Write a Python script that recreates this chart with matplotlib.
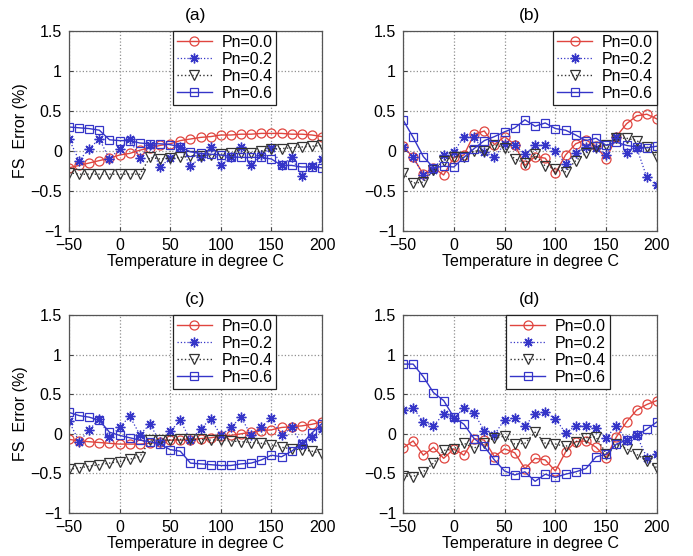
import matplotlib
matplotlib.use("Agg")
import matplotlib.pyplot as plt
import numpy as np

plt.rcParams['font.family'] = ['Liberation Sans', 'DejaVu Sans']

temperature = list(range(-50, 201, 10))
series_labels = ["Pn=0.0", "Pn=0.2", "Pn=0.4", "Pn=0.6"]
panel_titles = ["(a)", "(b)", "(c)", "(d)"]

# FS error (%) per panel, one list per Pn value
a_pn00 = [-0.21, -0.18, -0.15, -0.12, -0.09, -0.05, -0.03, 0.01, 0.04, 0.07, 0.09, 0.13, 0.15,
          0.17, 0.18, 0.20, 0.20, 0.21, 0.21, 0.22, 0.22, 0.22, 0.21, 0.21, 0.20, 0.18]
a_pn02 = [0.15, -0.12, 0.03, 0.15, -0.10, 0.03, 0.15, -0.09, 0.07, -0.20, -0.09, 0.05, -0.19,
          -0.08, 0.05, -0.18, -0.07, 0.05, -0.18, -0.05, 0.04, -0.18, -0.08, -0.31, -0.19, -0.10]
a_pn04 = [-0.27, -0.29, -0.29, -0.29, -0.29, -0.29, -0.29, -0.29, -0.08, -0.10, -0.09, -0.08, -0.06,
          -0.06, -0.05, -0.04, -0.03, -0.03, -0.02, 0.00, 0.02, 0.03, 0.04, 0.05, 0.06, 0.07]
a_pn06 = [0.30, 0.29, 0.28, 0.26, 0.14, 0.13, 0.13, 0.10, 0.09, 0.09, 0.08, 0.05, -0.01,
          -0.03, -0.04, -0.05, -0.07, -0.08, -0.08, -0.08, -0.10, -0.18, -0.18, -0.20, -0.20, -0.21]

b_pn00 = [0.06, -0.08, -0.29, -0.21, -0.30, -0.08, -0.05, 0.21, 0.25, 0.08, 0.18, 0.08, -0.18,
          -0.07, -0.09, -0.28, -0.05, 0.09, 0.14, 0.06, -0.10, 0.18, 0.34, 0.44, 0.46, 0.40]
b_pn02 = [0.05, -0.08, -0.30, -0.24, -0.05, -0.01, 0.18, 0.17, -0.01, -0.08, 0.09, 0.07, -0.04,
          0.07, 0.07, 0.00, -0.16, -0.03, 0.05, 0.04, -0.05, 0.18, -0.02, 0.04, -0.33, -0.43]
b_pn04 = [-0.28, -0.40, -0.39, -0.24, -0.12, -0.07, -0.08, 0.00, 0.00, 0.08, 0.04, -0.10, -0.15,
          -0.04, -0.19, -0.22, -0.26, -0.12, -0.03, 0.05, 0.07, 0.16, 0.16, 0.13, 0.05, -0.07]
b_pn06 = [0.39, 0.17, -0.07, -0.21, -0.19, -0.20, -0.08, 0.03, 0.13, 0.18, 0.24, 0.29, 0.39,
          0.31, 0.35, 0.28, 0.26, 0.20, 0.13, 0.16, 0.07, 0.11, 0.07, 0.05, 0.04, 0.06]

c_pn00 = [-0.07, -0.09, -0.10, -0.11, -0.12, -0.13, -0.13, -0.13, -0.12, -0.10, -0.08, -0.08, -0.08,
          -0.06, -0.05, -0.03, -0.02, 0.00, 0.02, 0.04, 0.05, 0.08, 0.09, 0.10, 0.12, 0.15]
c_pn02 = [0.16, -0.10, 0.05, 0.19, -0.04, 0.08, 0.22, -0.01, 0.12, -0.10, 0.03, 0.17, -0.08,
          0.06, 0.19, -0.02, 0.08, 0.21, -0.02, 0.09, 0.20, -0.02, 0.08, -0.13, -0.04, 0.06]
c_pn04 = [-0.45, -0.43, -0.41, -0.39, -0.37, -0.35, -0.32, -0.29, -0.08, -0.08, -0.08, -0.07, -0.07,
          -0.07, -0.08, -0.08, -0.09, -0.10, -0.11, -0.12, -0.14, -0.17, -0.19, -0.20, -0.22, -0.25]
c_pn06 = [0.27, 0.23, 0.21, 0.17, 0.02, -0.02, -0.05, -0.08, -0.10, -0.13, -0.20, -0.22, -0.37,
          -0.38, -0.39, -0.40, -0.40, -0.38, -0.37, -0.33, -0.27, -0.29, -0.22, -0.13, 0.01, 0.13]

d_pn00 = [-0.18, -0.09, -0.27, -0.17, -0.31, -0.19, -0.27, -0.06, -0.08, -0.29, -0.19, -0.24, -0.44,
          -0.31, -0.33, -0.47, -0.23, -0.10, -0.09, -0.17, -0.30, -0.04, 0.15, 0.30, 0.37, 0.42]
d_pn02 = [0.30, 0.33, 0.15, 0.10, 0.25, 0.20, 0.32, 0.26, 0.04, -0.01, 0.18, 0.20, 0.10,
          0.25, 0.27, 0.19, 0.01, 0.10, 0.10, 0.07, -0.05, 0.10, -0.08, -0.02, -0.30, -0.26]
d_pn04 = [-0.53, -0.54, -0.48, -0.37, -0.21, -0.19, -0.12, -0.18, -0.12, -0.05, -0.03, -0.13, -0.12,
          0.02, -0.12, -0.13, -0.16, -0.10, -0.05, -0.04, -0.25, -0.13, -0.19, -0.26, -0.34, -0.43]
d_pn06 = [0.88, 0.88, 0.72, 0.52, 0.42, 0.21, 0.12, -0.06, -0.16, -0.33, -0.47, -0.52, -0.48,
          -0.60, -0.51, -0.55, -0.51, -0.48, -0.44, -0.29, -0.26, -0.13, -0.08, -0.02, 0.06, 0.15]

panels = [
    [a_pn00, a_pn02, a_pn04, a_pn06],
    [b_pn00, b_pn02, b_pn04, b_pn06],
    [c_pn00, c_pn02, c_pn04, c_pn06],
    [d_pn00, d_pn02, d_pn04, d_pn06],
]

x_ticks = [-50, 0, 50, 100, 150, 200]
y_ticks = [-1, -0.5, 0, 0.5, 1, 1.5]
y_tick_labels = ["\u22121", "\u22120.5", "0", "0.5", "1", "1.5"]

red = "#e0453f"
blue = "#3535c8"
dark = "#333333"
styles = [
    dict(color=red, linestyle='-', linewidth=1.0, marker='o', markersize=6.5,
         markerfacecolor='none', markeredgewidth=0.9),
    dict(color=blue, linestyle=':', linewidth=0.9, marker=(8, 2, 0), markersize=7,
         markeredgewidth=1.0),
    dict(color=dark, linestyle=':', linewidth=1.0, marker='v', markersize=7,
         markerfacecolor='none', markeredgewidth=0.9),
    dict(color=blue, linestyle='-', linewidth=1.0, marker='s', markersize=6,
         markerfacecolor='none', markeredgewidth=0.9),
]

W, H = 693, 556
fig = plt.figure(figsize=(W / 100, H / 100), dpi=100)

# axes boxes in pixels: left, top, right, bottom
boxes = [(69, 31, 322, 231), (403, 31, 657, 231),
         (69, 315, 322, 513), (403, 315, 657, 513)]
legend_right = [0.82, 1.0, 0.82, 0.815]

for i, (box, series) in enumerate(zip(boxes, panels)):
    l, t, r, b = box
    ax = fig.add_axes([l / W, (H - b) / H, (r - l) / W, (b - t) / H])
    for vals, lab, st in zip(series, series_labels, styles):
        ax.plot(temperature, vals, label=lab, **st)
    ax.set_xlim(-50, 200)
    ax.set_ylim(-1, 1.5)
    ax.set_xticks(x_ticks)
    ax.set_yticks(y_ticks)
    ax.set_yticklabels(y_tick_labels)
    ax.tick_params(direction='in', length=3, labelsize=11.5, color='#444444')
    ax.tick_params(axis='x', pad=5)
    ax.tick_params(axis='y', pad=5)
    ax.grid(True, linestyle=':', color='#909090', linewidth=0.9)
    for sp in ax.spines.values():
        sp.set_color('#555555')
        sp.set_linewidth(0.9)
    ax.set_title(panel_titles[i], fontsize=12.5, pad=8)
    ax.set_xlabel("Temperature in degree C", fontsize=11.5, labelpad=1)
    if i % 2 == 0:
        ax.set_ylabel("FS  Error (%)", fontsize=11.5, labelpad=2)
    leg = ax.legend(loc='upper right', bbox_to_anchor=(legend_right[i], 1.0),
                    fontsize=11.5, frameon=True, fancybox=False, framealpha=1,
                    edgecolor='#222222', borderpad=0.25, labelspacing=0.12,
                    handlelength=2.2, handletextpad=0.6, borderaxespad=0.0)
    leg.get_frame().set_linewidth(0.9)

fig.savefig("out.png", dpi=100)
